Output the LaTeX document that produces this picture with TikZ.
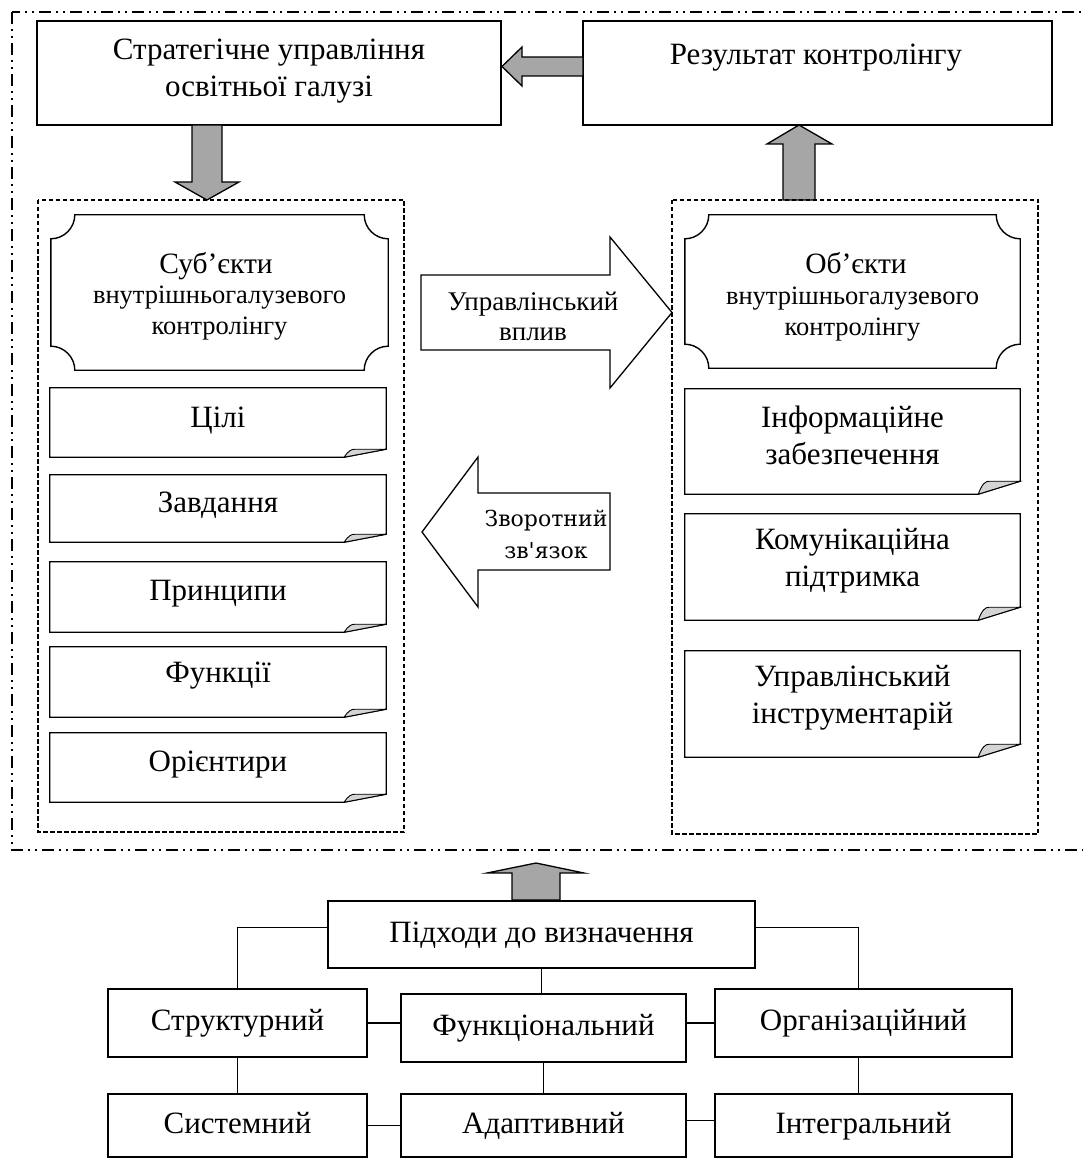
\documentclass[tikz,border=0pt]{standalone}
\usepackage{fontspec}
\setmainfont{Liberation Serif}
\newfontfamily\arrowlabelfont{DejaVu Serif}
\usetikzlibrary{calc}
\definecolor{arrowgray}{HTML}{A6A6A6}
\definecolor{flapgray}{HTML}{D4D4D4}

% folded-corner note frame around a named node: #1 node, #2 depth of the curl
\newcommand\foldframe[2]{%
  \draw[line width=1.3pt, line join=miter, fill=white]
    (#1.north west) -- (#1.north east) -- ($(#1.south east)+(0,-#2)$)
    -- ($(#1.south east)+(-42,0)$) -- (#1.south west) -- cycle;
  \draw[line width=0.9pt, fill=flapgray]
    ($(#1.south east)+(-42,0)$)
    .. controls ($(#1.south east)+(-38,-#2*0.8)$) and ($(#1.south east)+(-35,-#2)$) ..
    ($(#1.south east)+(-31,-#2)$) -- ($(#1.south east)+(0,-#2)$) -- cycle;
}
% plaque frame with concave quarter-circle corners (radius 24)
\newcommand\plaqueframe[1]{%
  \draw[line width=1.4pt]
    ($(#1.north west)+(24,0)$) -- ($(#1.north east)+(-24,0)$)
    .. controls ($(#1.north east)+(-24,13.2)$) and ($(#1.north east)+(-13.2,24)$) .. ($(#1.north east)+(0,24)$)
    -- ($(#1.south east)+(0,-24)$)
    .. controls ($(#1.south east)+(-13.2,-24)$) and ($(#1.south east)+(-24,-13.2)$) .. ($(#1.south east)+(-24,0)$)
    -- ($(#1.south west)+(24,0)$)
    .. controls ($(#1.south west)+(24,-13.2)$) and ($(#1.south west)+(13.2,-24)$) .. ($(#1.south west)+(0,-24)$)
    -- ($(#1.north west)+(0,24)$)
    .. controls ($(#1.north west)+(13.2,24)$) and ($(#1.north west)+(24,13.2)$) .. cycle;
}

\begin{document}
\begin{tikzpicture}[x=1pt, y=-1pt,
  frame/.style={draw, line width=1.4pt, inner sep=0pt},
  txt/.style={align=center, inner sep=0pt, font=\fontsize{31}{37}\selectfont},
  oneline/.style={inner sep=0pt, font=\fontsize{31}{37}\selectfont, text height=22pt, text depth=7pt},
  platitle/.style={anchor=base, inner sep=0pt, font=\fontsize{29.5}{34}\selectfont},
  plasub/.style={anchor=base, inner sep=0pt, font=\fontsize{26.5}{31}\selectfont},
  slot/.style={inner sep=0pt},
  blockarrow/.style={draw, line width=1.3pt, line join=miter, fill=arrowgray},
  hollowarrow/.style={draw, line width=1.3pt, line join=miter, fill=white},
  link/.style={line width=1.3pt},
  group/.style={line width=1.1pt, dash pattern=on 4.5pt off 2.5pt},
  outer/.style={line width=1.1pt, dash pattern=on 12pt off 5pt on 2pt off 5pt on 2pt off 5pt}]
\useasboundingbox (0,0) rectangle (1083,1158);

% outer dash-dot boundary of the controlling system
\draw[outer] (12,12) rectangle (1100,850);

% top row
\node[frame, minimum width=464pt, minimum height=104pt] (strat) at (269,73) {};
\node[txt] (strattext) at (269,71) {Стратегічне управління\\освітньої галузі};
\node[frame, minimum width=469pt, minimum height=104pt] (res) at (817.5,73) {};
\node[txt] (restext) at (816,58) {Результат контролінгу};

% grey arrows of the top row
\draw[blockarrow] (583,57) -- (522,57) -- (522,47) -- (502,66.5) -- (522,86) -- (522,76) -- (583,76) -- cycle;
\draw[blockarrow] (192,125) -- (192,182) -- (175,182) -- (207,200) -- (239,182) -- (222,182) -- (222,125) -- cycle;
\draw[blockarrow] (783,200) -- (783,144) -- (767,144) -- (799,125) -- (832,144) -- (815,144) -- (815,200) -- cycle;

% dashed groups
\draw[group] (38,200) rectangle (404,832);
\draw[group] (672,200) rectangle (1038,834);

% subjects side
\node[slot, minimum width=337pt, minimum height=155pt] (subj) at (219.5,292.5) {};
\plaqueframe{subj}
\node[platitle] (subjtitle) at (216,273) {Суб’єкти};
\node[plasub] (subjsub1) at (219.5,303) {внутрішньогалузевого};
\node[plasub] (subjsub2) at (219.5,334) {контролінгу};

\node[slot, minimum width=336pt, minimum height=69pt] (goals) at (218,422.5) {};
\node[slot, minimum width=336pt, minimum height=67pt] (tasks) at (218,508.5) {};
\node[slot, minimum width=336pt, minimum height=70pt] (princ) at (218,597) {};
\node[slot, minimum width=336pt, minimum height=70pt] (funcs) at (218,682) {};
\node[slot, minimum width=336pt, minimum height=69pt] (orient) at (218,767.5) {};
\foldframe{goals}{8}
\foldframe{tasks}{8}
\foldframe{princ}{8}
\foldframe{funcs}{8}
\foldframe{orient}{8}
\node[txt] at ([yshift=2pt]goals.center) {Цілі};
\node[txt] at ([yshift=3pt]tasks.center) {Завдання};
\node[txt] at ([yshift=3pt]princ.center) {Принципи};
\node[txt] at ([yshift=6pt]funcs.center) {Функції};
\node[txt] at ([yshift=3pt]orient.center) {Орієнтири};

% objects side
\node[slot, minimum width=335pt, minimum height=153pt] (obj) at (852.5,291.5) {};
\plaqueframe{obj}
\node[platitle] (objtitle) at (856,273) {Об’єкти};
\node[plasub] (objsub1) at (852.5,304) {внутрішньогалузевого};
\node[plasub] (objsub2) at (852.5,335) {контролінгу};

\node[slot, minimum width=335pt, minimum height=105pt] (info) at (852.5,441.5) {};
\node[slot, minimum width=335pt, minimum height=106pt] (comm) at (852.5,567) {};
\node[slot, minimum width=335pt, minimum height=106pt] (tools) at (852.5,704) {};
\foldframe{info}{13}
\foldframe{comm}{13}
\foldframe{tools}{13}
\node[txt] at ([yshift=6pt]info.center) {Інформаційне\\забезпечення};
\node[txt] at ([yshift=6pt]comm.center) {Комунікаційна\\підтримка};
\node[txt] at ([yshift=6pt]tools.center) {Управлінський\\інструментарій};

% influence and feedback arrows
\draw[hollowarrow] (421,275) -- (610,275) -- (610,237) -- (672,312.5) -- (610,388) -- (610,350) -- (421,350) -- cycle;
\node[align=center, inner sep=0pt, font=\fontsize{27}{30}\selectfont] (influence) at (533,316) {Управлінський\\вплив};
\draw[hollowarrow] (610,493) -- (478,493) -- (478,457) -- (422,532) -- (478,607) -- (478,570) -- (610,570) -- cycle;
\node[align=center, inner sep=0pt, font=\arrowlabelfont\fontsize{22}{32}\selectfont] (feedback) at (546,534) {Зворотний\\зв\textquotesingle язок};

% approaches
\draw[blockarrow] (512,900) -- (512,873) -- (487,873) -- (536,863) -- (584,873) -- (560,873) -- (560,900) -- cycle;
\node[frame, oneline, minimum width=427pt, minimum height=67pt] (appr) at (541.5,934.5) {Підходи до визначення};
\node[frame, oneline, minimum width=259pt, minimum height=68pt] (struct) at (237.5,1023) {Структурний};
\node[frame, oneline, minimum width=285pt, minimum height=68pt] (func) at (543.5,1028) {Функціональний};
\node[frame, oneline, minimum width=297pt, minimum height=68pt] (org) at (863.5,1023) {Організаційний};
\node[frame, oneline, minimum width=259pt, minimum height=63pt] (syst) at (237.5,1125.5) {Системний};
\node[frame, oneline, minimum width=285pt, minimum height=63pt] (adapt) at (543.5,1125.5) {Адаптивний};
\node[frame, oneline, minimum width=297pt, minimum height=63pt] (integ) at (863.5,1125.5) {Інтегральний};

\draw[link] ([yshift=7pt]appr.west) -| (struct.north);
\draw[link] ([yshift=7pt]appr.east) -| ([xshift=-5pt]org.north);
\draw[link] (appr.south) -- (appr.south |- func.north);
\draw[link] (struct.east) -- (struct.east -| func.west);
\draw[link] (org.west) -- (org.west -| func.east);
\draw[link] (struct.south) -- (syst.north);
\draw[link] (func.south) -- (adapt.north);
\draw[link] ([xshift=-5pt]org.south) -- ([xshift=-5pt]integ.north);
\draw[link] (syst.east) -- (syst.east -| adapt.west);
\draw[link] ([yshift=5pt]integ.west) -- ([yshift=5pt]integ.west -| adapt.east);
\end{tikzpicture}
\end{document}
